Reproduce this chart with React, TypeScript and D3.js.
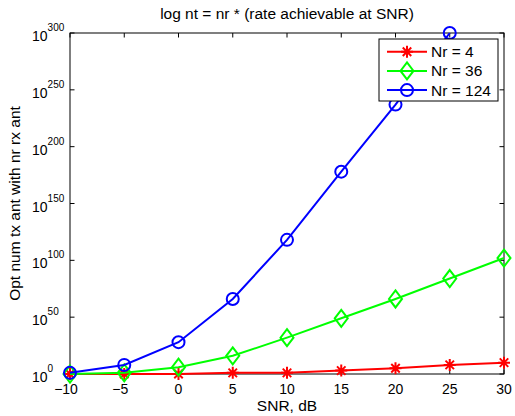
import React from "react";
import * as d3 from "d3";

// SNR in dB
const snr = [-10, -5, 0, 5, 10, 15, 20, 25, 30];
// optimal number of tx antennas
const nr4 = [1e0, 1e0, 1e0, 1e1, 1e1, 1e3, 1e5, 1e8, 1e10];
const nr36 = [1e0, 1e1, 1e6, 1e16, 1e32, 1e49, 1e66, 1e84, 1e102];
// Nr = 124 overflows at 30 dB (Inf), so nothing is drawn there
const nr124 = [1e1, 1e8, 1e28, 1e66, 1e118, 1e178, 1e237, 1e300, null];

const xTicks = [-10, -5, 0, 5, 10, 15, 20, 25, 30];
const yTickExps = [0, 50, 100, 150, 200, 250, 300];

const seriesNames = ["Nr = 4", "Nr = 36", "Nr = 124"];
const seriesColors = ["#ff0000", "#00ff00", "#0000ff"];
const seriesMarkers = ["star", "diamond", "circle"];
const seriesValues = [nr4, nr36, nr124];

const W = 515;
const H = 416;
const left = 70;
const right = 504;
const top = 33;
const bottom = 374;
const font = "'Liberation Sans', Arial, Helvetica, sans-serif";

const Marker = ({ type, x, y, color }) => {
  if (type === "circle") {
    return <circle cx={x} cy={y} r={6} fill="none" stroke={color} strokeWidth={2} />;
  }
  if (type === "diamond") {
    const p = [
      [x, y - 8.5],
      [x + 6.5, y],
      [x, y + 8.5],
      [x - 6.5, y],
    ];
    return <polygon points={p.map((d) => d.join(",")).join(" ")} fill="none" stroke={color} strokeWidth={2} />;
  }
  // asterisk: 8 arms
  const r = 6;
  const d = r * Math.SQRT1_2;
  const path = `M${x - r},${y}H${x + r}M${x},${y - r}V${y + r}M${x - d},${y - d}L${x + d},${y + d}M${x - d},${y + d}L${x + d},${y - d}`;
  return <path d={path} stroke={color} strokeWidth={2} fill="none" />;
};

export default function App() {
  const x = d3.scaleLinear().domain([-10, 30]).range([left, right]);
  const y = d3.scaleLog().domain([1, 1e300]).range([bottom, top]);

  const line = d3
    .line<[number, number | null]>()
    .defined((d) => d[1] != null)
    .x((d) => x(d[0]))
    .y((d) => y(d[1] as number));

  const tickLen = 4.5;

  return (
    <svg
      width={W}
      height={H}
      style={{ position: "absolute", left: 0, top: 0, background: "#fff" }}
      fontFamily={font}
    >
      <rect x={0} y={0} width={W} height={H} fill="#fff" />

      {/* title */}
      <text x={(left + right) / 2} y={19} textAnchor="middle" fontSize={15.5}>
        log nt = nr * (rate achievable at SNR)
      </text>

      {/* x ticks */}
      {xTicks.map((t) => (
        <g key={"x" + t}>
          <line x1={x(t)} x2={x(t)} y1={bottom} y2={bottom - tickLen} stroke="#000" />
          <line x1={x(t)} x2={x(t)} y1={top} y2={top + tickLen} stroke="#000" />
          <text x={x(t)} dx={t < 0 ? -4 : 0} y={394} textAnchor="middle" fontSize={14}>
            {t < 0 ? "\u2212" + Math.abs(t) : t}
          </text>
        </g>
      ))}

      {/* y ticks */}
      {yTickExps.map((e) => {
        const yy = y(Math.pow(10, e));
        return (
          <g key={"y" + e}>
            <line x1={left} x2={left + tickLen} y1={yy} y2={yy} stroke="#000" />
            <line x1={right} x2={right - tickLen} y1={yy} y2={yy} stroke="#000" />
            <text x={32} y={yy + 8} fontSize={14}>
              10
              <tspan dy={-10} fontSize={10}>
                {e}
              </tspan>
            </text>
          </g>
        );
      })}

      {/* axes box */}
      <rect x={left} y={top} width={right - left} height={bottom - top} fill="none" stroke="#000" strokeWidth={1} />

      {/* axis labels */}
      <text x={(left + right) / 2} y={411} textAnchor="middle" fontSize={15.5}>
        SNR, dB
      </text>
      <text
        transform={`translate(20,${(top + bottom) / 2}) rotate(-90)`}
        textAnchor="middle"
        fontSize={15.5}
      >
        Opt num tx ant with nr rx ant
      </text>

      {/* series */}
      {seriesValues.map((vals, i) => {
        const pts = snr.map((s, j) => [s, vals[j]] as [number, number | null]);
        return (
          <g key={"s" + i}>
            <path d={line(pts) || ""} fill="none" stroke={seriesColors[i]} strokeWidth={2} />
            {pts
              .filter((p) => p[1] != null)
              .map((p, j) => (
                <Marker key={j} type={seriesMarkers[i]} x={x(p[0])} y={y(p[1] as number)} color={seriesColors[i]} />
              ))}
          </g>
        );
      })}

      {/* legend */}
      <g>
        <rect x={379} y={39} width={119} height={62} fill="#fff" stroke="#000" strokeWidth={1} />
        {seriesNames.map((name, i) => {
          const ly = 51.7 + i * 19.2;
          return (
            <g key={"l" + i}>
              <line x1={387} x2={427} y1={ly} y2={ly} stroke={seriesColors[i]} strokeWidth={2} />
              <Marker type={seriesMarkers[i]} x={407} y={ly} color={seriesColors[i]} />
              <text x={431} y={ly + 5.5} fontSize={15.5}>
                {name}
              </text>
            </g>
          );
        })}
      </g>
    </svg>
  );
}
